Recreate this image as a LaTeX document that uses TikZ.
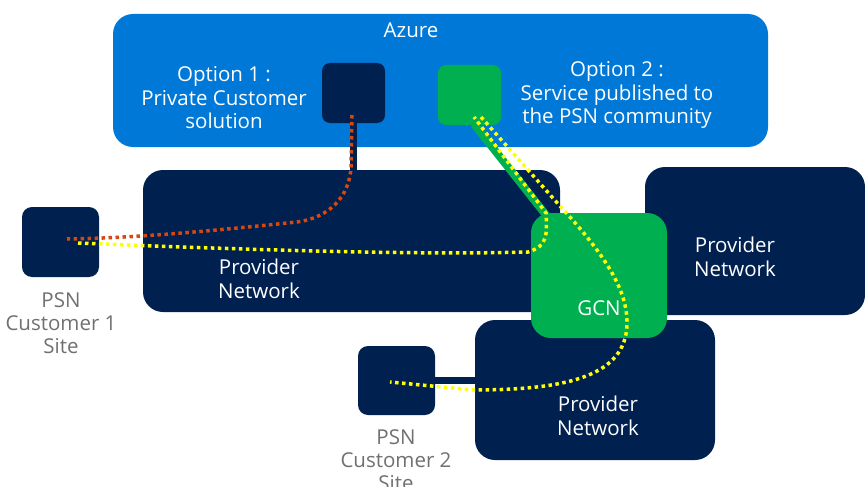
\documentclass[tikz,border=0pt]{standalone}
\usepackage{fontspec}
\setmainfont{Open Sans}
\usetikzlibrary{positioning}

\definecolor{azureblue}{RGB}{0,120,215}
\definecolor{navy}{RGB}{0,32,80}
\definecolor{gcngreen}{RGB}{0,176,80}
\definecolor{dotred}{RGB}{214,72,16}
\definecolor{dotyellow}{RGB}{255,255,0}
\definecolor{sitegray}{RGB}{112,112,112}

\tikzset{
  box/.style={rectangle, rounded corners=#1, inner sep=0pt, draw=none},
  box/.default=20pt,
  lbl/.style={text=white, align=center, font=\fontsize{20.5}{23.5}\selectfont},
  sitelbl/.style={text=sitegray, align=center, font=\fontsize{20.5}{23}\selectfont},
  link/.style={draw=navy, line width=7pt},
  route/.style={line width=3.5pt, dash pattern=on 3.5pt off 3.5pt}
}

\begin{document}
\begin{tikzpicture}[x=1pt, y=-1pt]
      \useasboundingbox (0,0) rectangle (865,487);
      % clouds and networks
      \node[box, fill=azureblue, minimum width=655pt, minimum height=133pt] (azure) at (440.5,80.5) {};
      \node[lbl] (azuretxt) at (411,30) {Azure};
      \node[box=8pt, fill=navy, minimum width=63pt, minimum height=60pt] (opt1) at (353.5,93) {};
      \node[box=8pt, fill=gcngreen, minimum width=63pt, minimum height=60pt] (opt2) at (469.5,95) {};
      \node[lbl] (opt1txt) at (224,98) {Option 1 :\\Private Customer\\solution};
      \node[lbl] (opt2txt) at (617,95) {Option 2 :\\Service published to\\the PSN community};
      \node[box, fill=navy, minimum width=417pt, minimum height=142pt] (prov1) at (351.5,241) {};
      \node[box, fill=navy, minimum width=220pt, minimum height=148pt] (provR) at (755,241) {};
      \node[box, fill=navy, minimum width=240pt, minimum height=140pt] (provB) at (595,390) {};
      \node[box, fill=gcngreen, minimum width=136pt, minimum height=125pt] (gcn) at (599,275.5) {};
      \node[lbl] (prov1txt) at (259,279) {Provider\\Network};
      \node[lbl] (provRtxt) at (735,257) {Provider\\Network};
      \node[lbl] (provBtxt) at (598,416) {Provider\\Network};
      \node[lbl] (gcntxt) at (599,308) {GCN};
      % customer sites
      \node[box=10pt, fill=navy, minimum width=77pt, minimum height=70pt] (cust1) at (60.5,242) {};
      \node[box=10pt, fill=navy, minimum width=77pt, minimum height=69pt] (cust2) at (396.5,380.5) {};
      \node[sitelbl] (cust1txt) at (61,323) {PSN\\Customer 1\\Site};
      \node[sitelbl] (cust2txt) at (396,460) {PSN\\Customer 2\\Site};
      % links
      \draw[link] (opt1.south) -- (opt1.south |- prov1.north);
      \draw[link] (cust2.east) -- (cust2.east -| provB.west);
      \draw[draw=gcngreen, line width=8pt] (474,124) -- (546,215);
      % routes
      \coordinate (r1) at (352,115);
      \coordinate (r2) at (67,239);
      \draw[route, dotred] (r1) -- (351,168) .. controls (348,205) and (320,219) .. (297,222)
        .. controls (220,230) and (140,238) .. (r2);
      \coordinate (y1) at (78,243);
      \coordinate (y2) at (474,117);
      \draw[route, dotyellow] (y1) .. controls (250,250) and (420,255) .. (528,252)
        .. controls (548,246) and (547,235) .. (546,213) -- (y2);
      \coordinate (y3) at (481,117);
      \coordinate (y4) at (390,382);
      \draw[route, dotyellow] (y3) -- (560,206) .. controls (605,255) and (628,290) .. (627,325)
        .. controls (625,375) and (570,390) .. (473,390) -- (y4);
    \end{tikzpicture}
\end{document}
